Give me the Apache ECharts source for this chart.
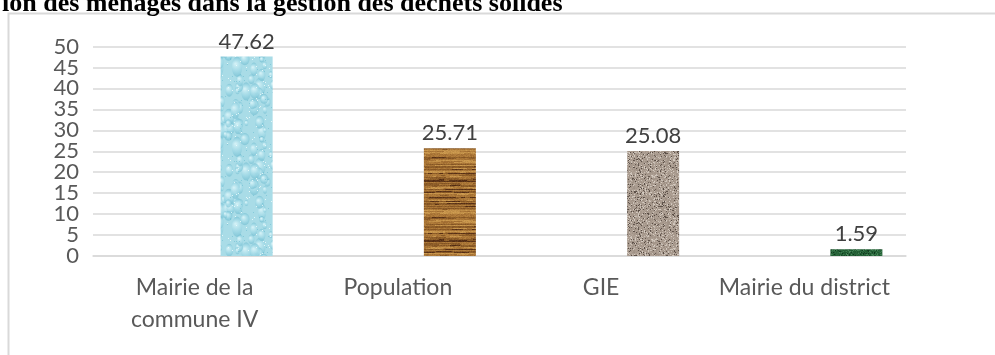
<!DOCTYPE html>
<html>
<head>
<meta charset="utf-8">
<script src="https://cdn.jsdelivr.net/npm/echarts@6/dist/echarts.min.js"></script>
<style>
  html, body { margin: 0; padding: 0; background: #ffffff; }
  #chart { width: 995px; height: 355px; }
</style>
</head>
<body>
<div id="chart"></div>
<script>
// Acteurs de la gestion des déchets solides (% des ménages)
const categories = ['Mairie de la\ncommune IV', 'Population', 'GIE', 'Mairie du district'];
const values = [47.62, 25.71, 25.08, 1.59];
const yTicks = { min: 0, max: 50, interval: 5 };
const titleText = 'ion des ménages dans la gestion des déchets solides';

// Small deterministic generator so the textures look the same on every load
function rng(seed) {
  return function () {
    seed |= 0; seed = (seed + 0x6D2B79F5) | 0;
    let t = Math.imul(seed ^ (seed >>> 15), 1 | seed);
    t = (t + Math.imul(t ^ (t >>> 7), 61 | t)) ^ t;
    return ((t ^ (t >>> 14)) >>> 0) / 4294967296;
  };
}
function makeCanvas(w, h) {
  const c = document.createElement('canvas');
  c.width = w; c.height = h;
  return c;
}
function clamp(v) { return Math.max(0, Math.min(255, Math.round(v))); }

// Water drops texture
function waterTexture() {
  const c = makeCanvas(64, 80), g = c.getContext('2d'), r = rng(11);
  g.fillStyle = '#a9dce7'; g.fillRect(0, 0, 64, 80);
  for (let i = 0; i < 70; i++) {
    const x = r() * 64, y = r() * 80, rx = 1.5 + r() * 4, ry = rx * (1.2 + r() * 0.8);
    for (const dx of [-64, 0, 64]) for (const dy of [-80, 0, 80]) {
      const cx = x + dx, cy = y + dy;
      const grad = g.createRadialGradient(cx - rx * 0.3, cy - ry * 0.3, 0.5, cx, cy, ry);
      grad.addColorStop(0, 'rgba(215,243,248,0.9)');
      grad.addColorStop(0.6, 'rgba(155,214,228,0.75)');
      grad.addColorStop(1, 'rgba(110,186,206,0.6)');
      g.fillStyle = grad;
      g.beginPath(); g.ellipse(cx, cy, rx, ry, 0, 0, Math.PI * 2); g.fill();
    }
  }
  for (let i = 0; i < 120; i++) {
    g.fillStyle = r() < 0.5 ? 'rgba(240,252,253,0.8)' : 'rgba(110,190,210,0.6)';
    g.fillRect(Math.floor(r() * 64), Math.floor(r() * 80), 1, 1);
  }
  return c;
}

// Horizontal wood grain
function woodTexture() {
  const w = 60, h = 60, c = makeCanvas(w, h), g = c.getContext('2d'), r = rng(23);
  const img = g.createImageData(w, h);
  const rowShade = [];
  for (let y = 0; y < h; y++) rowShade.push(r());
  for (let y = 0; y < h; y++) {
    let seg = 0, shade = rowShade[y];
    for (let x = 0; x < w; x++) {
      if (seg-- <= 0) { seg = 3 + Math.floor(r() * 14); shade = rowShade[y] * 0.7 + r() * 0.3; }
      let base;
      if (shade < 0.2) base = [92, 52, 24];
      else if (shade < 0.45) base = [140, 92, 40];
      else if (shade < 0.75) base = [170, 118, 55];
      else base = [196, 146, 74];
      const n = (r() - 0.5) * 22;
      const i = (y * w + x) * 4;
      img.data[i] = clamp(base[0] + n); img.data[i + 1] = clamp(base[1] + n); img.data[i + 2] = clamp(base[2] + n * 0.6); img.data[i + 3] = 255;
    }
  }
  g.putImageData(img, 0, 0);
  return c;
}

// Speckled stone
function speckleTexture(seed, base, dark, light, spread) {
  const w = 64, h = 64, c = makeCanvas(w, h), g = c.getContext('2d'), r = rng(seed);
  const img = g.createImageData(w, h);
  for (let p = 0; p < w * h; p++) {
    const t = r();
    let col;
    if (t < 0.1) col = dark; else if (t < 0.25) col = light; else col = base;
    const n = (r() - 0.5) * spread;
    img.data[p * 4] = clamp(col[0] + n); img.data[p * 4 + 1] = clamp(col[1] + n); img.data[p * 4 + 2] = clamp(col[2] + n); img.data[p * 4 + 3] = 255;
  }
  g.putImageData(img, 0, 0);
  return c;
}

const patterns = [
  waterTexture(),
  woodTexture(),
  speckleTexture(37, [168, 154, 142], [96, 84, 76], [206, 196, 186], 22),
  speckleTexture(41, [38, 98, 56], [20, 62, 34], [64, 128, 82], 18)
].map(img => ({ image: img, repeat: 'repeat' }));

const chart = echarts.init(document.getElementById('chart'), null, { renderer: 'canvas' });
const axisFont = 'Lato, "Open Sans", sans-serif';
const yLabelStyle = { color: '#595959', fontFamily: axisFont, fontSize: 22, margin: 14 };

chart.setOption({
  animation: false,
  backgroundColor: '#ffffff',
  graphic: [
    { type: 'rect', silent: true, z: -10, shape: { x: 8.5, y: 13.5, width: 1000, height: 400 },
      style: { fill: 'none', stroke: '#d9d9d9', lineWidth: 2 } },
    { type: 'text', left: 2, top: -9, silent: true,
      style: { text: titleText, fill: '#000000', font: 'bold 26px "Liberation Serif", "Times New Roman", serif' } }
  ],
  grid: { left: 93, right: 89, top: 46.5, bottom: 99 },
  xAxis: {
    type: 'category',
    data: categories,
    axisLine: { show: true, lineStyle: { color: '#d9d9d9', width: 1.5 } },
    axisTick: { show: false },
    axisLabel: { interval: 0, hideOverlap: false, color: '#595959', fontFamily: axisFont, fontSize: 23, lineHeight: 32, margin: 16 }
  },
  yAxis: [
    {
      // inner ticks 5 … 45 with grid lines
      type: 'value', position: 'left',
      min: yTicks.min, max: yTicks.max, interval: yTicks.interval,
      axisLine: { show: false }, axisTick: { show: false },
      splitLine: { lineStyle: { color: '#d9d9d9', width: 1.5 } },
      axisLabel: Object.assign({ showMinLabel: false, showMaxLabel: false }, yLabelStyle)
    },
    {
      // end ticks 0 and 50
      type: 'value', position: 'left', offset: 0,
      min: yTicks.min, max: yTicks.max, interval: yTicks.max - yTicks.min,
      axisLine: { show: false }, axisTick: { show: false }, splitLine: { show: false },
      axisLabel: Object.assign({ showMinLabel: true, showMaxLabel: true }, yLabelStyle)
    }
  ],
  series: [
    // two empty slots keep the bar in the right-hand position of each category
    { type: 'bar', barWidth: 52, barGap: '0%', data: [] },
    { type: 'bar', barWidth: 52, barGap: '0%', data: [] },
    {
      type: 'bar', barWidth: 52, barGap: '0%',
      data: values.map((v, i) => ({ value: v, itemStyle: { color: patterns[i] } })),
      label: {
        show: true, position: 'top', distance: 4,
        color: '#404040', fontFamily: axisFont, fontSize: 22,
        formatter: p => p.value.toFixed(2)
      }
    }
  ]
});
</script>
</body>
</html>
